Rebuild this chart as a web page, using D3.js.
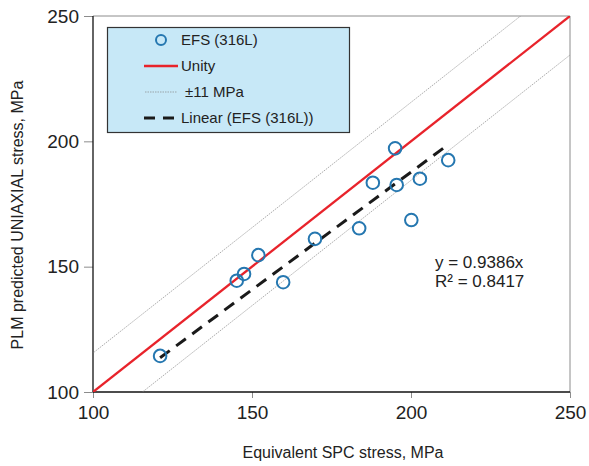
<!DOCTYPE html>
<html>
<head>
<meta charset="utf-8">
<script src="https://cdn.jsdelivr.net/npm/d3@7"></script>
<style>
  body { margin: 0; background: #fff; }
  svg { font-family: Arial, "Liberation Sans", sans-serif; }
</style>
</head>
<body>
<svg width="589" height="466"></svg>
<script>
// EFS (316L) data: equivalent SPC stress vs PLM predicted uniaxial stress
var spcStress = [121.1, 145.2, 147.5, 152.0, 159.8, 169.8, 183.7, 188.0, 195.0, 195.5, 200.1, 202.8, 211.7];
var plmStress = [114.4, 144.4, 147.1, 154.6, 143.8, 161.1, 165.3, 183.5, 197.2, 182.6, 168.6, 185.1, 192.5];
var xTicks = [100, 150, 200, 250];
var yTicks = [100, 150, 200, 250];
var slope = 0.9386;
var band = 11; // MPa, normal distance from the unity line
var legendLabels = ["EFS (316L)", "Unity", "\u00b111 MPa", "Linear (EFS (316L))"];

var svg = d3.select("svg");
var x = d3.scaleLinear().domain([100, 250]).range([93, 570]);
var y = d3.scaleLinear().domain([100, 250]).range([392, 16]);

var blue = "#2577b0", red = "#e8232b";

svg.append("defs").append("clipPath").attr("id", "clip")
  .append("rect").attr("x", x(100)).attr("y", y(250))
  .attr("width", x(250) - x(100)).attr("height", y(100) - y(250));

// frame (top/right gray)
svg.append("path")
  .attr("d", "M" + x(100) + "," + y(250) + "H" + x(250) + "V" + y(100))
  .attr("fill", "none").attr("stroke", "#8c8c8c").attr("stroke-width", 1);

// x axis
var xAxis = svg.append("g").attr("transform", "translate(0," + y(100) + ")");
xAxis.call(d3.axisBottom(x).tickValues(d3.range(110, 250, 10)).tickSize(-5).tickFormat(""));
xAxis.call(d3.axisBottom(x).tickValues(xTicks).tickSize(6).tickFormat(d3.format("d")));
xAxis.selectAll(".domain").remove();
xAxis.selectAll("line").attr("stroke", "#8c8c8c");
xAxis.selectAll("text").attr("font-size", 19).attr("fill", "#222").attr("dy", "0.95em");
svg.append("line").attr("x1", x(100)).attr("x2", x(250)).attr("y1", y(100)).attr("y2", y(100))
  .attr("stroke", "#111").attr("stroke-width", 1.3);

// y axis
var yAxis = svg.append("g").attr("transform", "translate(" + x(100) + ",0)");
yAxis.call(d3.axisLeft(y).tickValues(d3.range(110, 250, 10)).tickSize(-4).tickFormat(""));
yAxis.call(d3.axisLeft(y).tickValues(yTicks).tickSize(9).tickFormat(d3.format("d")));
yAxis.selectAll(".domain").remove();
yAxis.selectAll("line").attr("stroke", "#8c8c8c");
yAxis.selectAll("text").attr("font-size", 19).attr("fill", "#222").attr("x", -14);
svg.append("line").attr("x1", x(100)).attr("x2", x(100)).attr("y1", y(100)).attr("y2", y(250))
  .attr("stroke", "#111").attr("stroke-width", 1.3);

// axis titles
svg.append("text").attr("x", 343).attr("y", 458).attr("text-anchor", "middle")
  .attr("font-size", 16).attr("fill", "#222").text("Equivalent SPC stress, MPa");
svg.append("text").attr("transform", "translate(23,215) rotate(-90)").attr("text-anchor", "middle")
  .attr("font-size", 16).attr("fill", "#222").text("PLM predicted UNIAXIAL stress, MPa");

var plot = svg.append("g").attr("clip-path", "url(#clip)");
var line = d3.line().x(function(d) { return x(d[0]); }).y(function(d) { return y(d[1]); });

// ±11 band (perpendicular distance -> vertical offset)
var off = band * Math.SQRT2;
[off, -off].forEach(function(o) {
  plot.append("path").datum([[80, 80 + o], [270, 270 + o]])
    .attr("d", line).attr("fill", "none")
    .attr("stroke", "#888").attr("stroke-width", 0.7).attr("stroke-dasharray", "1.5,1");
});

// unity
plot.append("path").datum([[100, 100], [250, 250]])
  .attr("d", line).attr("fill", "none").attr("stroke", red).attr("stroke-width", 2.3);

// linear fit
var xmin = d3.min(spcStress), xmax = d3.max(spcStress);
plot.append("path").datum([[xmin, slope * xmin], [xmax, slope * xmax]])
  .attr("d", line).attr("fill", "none").attr("stroke", "#1a1a1a")
  .attr("stroke-width", 3).attr("stroke-dasharray", "12,8");

// points
plot.selectAll("circle.pt").data(spcStress).enter().append("circle")
  .attr("class", "pt")
  .attr("cx", function(d) { return x(d); })
  .attr("cy", function(d, i) { return y(plmStress[i]); })
  .attr("r", 6.3).attr("fill", "none").attr("stroke", blue).attr("stroke-width", 2);

// equation
svg.append("text").attr("x", 435).attr("y", 268).attr("font-size", 17).attr("fill", "#222")
  .text("y = " + slope + "x");
svg.append("text").attr("x", 435).attr("y", 287).attr("font-size", 17).attr("fill", "#222")
  .text("R\u00b2 = 0.8417");

// legend
var lg = svg.append("g");
lg.append("rect").attr("x", 107.5).attr("y", 27.5).attr("width", 242).attr("height", 105)
  .attr("fill", "#c7e8f7").attr("stroke", "#333").attr("stroke-width", 1.2);
var rowY = [40, 66, 92, 118];
lg.append("circle").attr("cx", 161).attr("cy", rowY[0]).attr("r", 5)
  .attr("fill", "none").attr("stroke", blue).attr("stroke-width", 2);
lg.append("line").attr("x1", 144).attr("x2", 178).attr("y1", rowY[1]).attr("y2", rowY[1])
  .attr("stroke", red).attr("stroke-width", 2.3);
lg.append("line").attr("x1", 145).attr("x2", 177).attr("y1", rowY[2]).attr("y2", rowY[2])
  .attr("stroke", "#888").attr("stroke-width", 0.7).attr("stroke-dasharray", "1.5,1");
lg.append("line").attr("x1", 144).attr("x2", 178).attr("y1", rowY[3]).attr("y2", rowY[3])
  .attr("stroke", "#1a1a1a").attr("stroke-width", 3).attr("stroke-dasharray", "11,8");
var textX = [181, 181, 185, 181];
lg.selectAll("text").data(legendLabels).enter().append("text")
  .attr("x", function(d, i) { return textX[i]; })
  .attr("y", function(d, i) { return rowY[i]; })
  .attr("dy", "0.36em").attr("font-size", 15).attr("fill", "#222")
  .text(function(d) { return d; });
</script>
</body>
</html>
